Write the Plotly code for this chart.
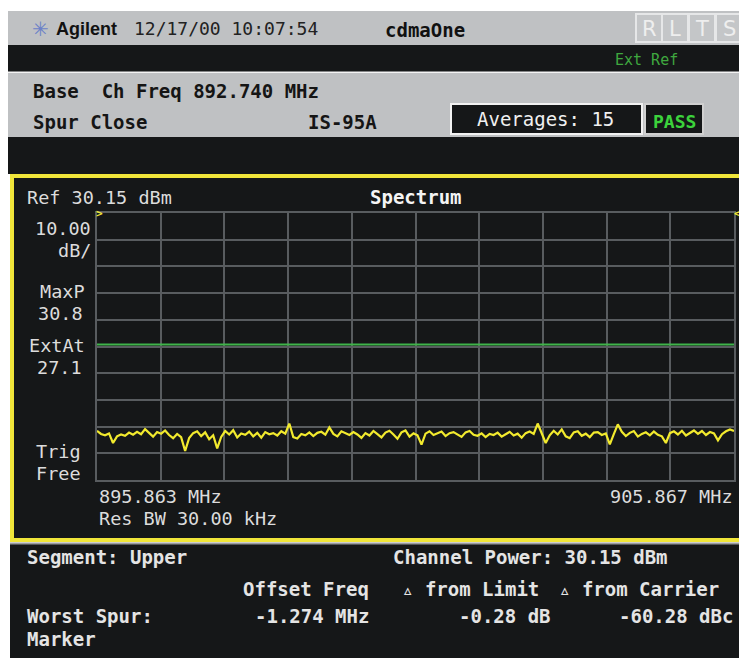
import numpy as np
import plotly.graph_objects as go

# sweep settings
f_start = 895.863
f_stop = 905.867
ref_level = 30.15
db_per_div = 10.0
limit_level = -19.1

# displayed spectrum trace (dBm), left to right
trace_dbm = [
    -51.4, -52.6, -53.1, -52.4, -56.0, -53.5, -52.8, -53.3, -52.1, -52.9,
    -51.8, -52.7, -50.8, -52.2, -53.6, -51.9, -52.5, -51.3, -53.0, -54.2,
    -52.6, -53.8, -59.0, -54.1, -52.3, -51.6, -53.4, -52.0, -54.6, -53.1,
    -58.0, -53.7, -51.5, -52.8, -51.2, -53.9, -52.4, -52.9, -51.7, -53.5,
    -52.2, -54.0, -51.9, -52.7, -52.3, -53.2, -51.6, -52.5, -48.7, -53.8,
    -54.3, -52.6, -53.1, -52.0, -53.4, -52.2, -51.8, -52.9, -50.2, -52.6,
    -53.5, -51.6, -52.4, -53.0, -51.9, -52.8, -54.1, -52.3, -53.2, -51.5,
    -52.7, -53.9, -52.1, -51.4, -52.8, -54.4, -52.0, -51.3, -53.6, -52.4,
    -53.1, -56.6, -52.5, -51.6, -53.0, -52.2, -51.7, -53.4, -52.3, -51.9,
    -52.8, -53.7, -52.0, -51.5, -52.9, -53.3, -52.4, -53.8, -52.6, -53.0,
    -52.1, -53.6, -52.7, -51.8, -53.2, -52.5, -54.0, -52.3, -51.7, -52.6,
    -48.7, -52.2, -56.0, -53.1, -51.4, -52.8, -50.9, -53.5, -54.2, -52.0,
    -51.6, -53.3, -52.5, -53.8, -52.1, -51.9, -53.0, -52.4, -56.5, -52.7,
    -49.0, -51.8, -53.4, -52.2, -51.5, -53.6, -52.6, -52.0, -53.1, -51.7,
    -52.9, -53.5, -56.0, -52.3, -51.6, -52.8, -51.4, -53.2, -52.1, -51.3,
    -52.6, -51.5, -53.0, -51.9, -52.4, -55.0, -52.7, -51.6, -50.9, -51.5,
]
freqs = np.linspace(f_start, f_stop, len(trace_dbm))

W, H = 747, 658
OFF = 8  # page body margin, positions below are in window pixels
MONO = "DejaVu Sans Mono"
GRAY = "#bfc1c3"
BLACK = "#151718"
YELLOW = "#f0e63a"
GRID = "#585c5f"


def px(x):
    return (x - OFF) / W


def py(y):
    return 1 - (y - OFF) / H


fig = go.Figure()

fig.add_trace(go.Scatter(x=[f_start, f_stop], y=[limit_level, limit_level],
                         mode="lines", line=dict(color="#3fb44a", width=2),
                         hoverinfo="skip"))
fig.add_trace(go.Scatter(x=freqs, y=trace_dbm, mode="lines",
                         line=dict(color="#f2ea2e", width=2.2),
                         hoverinfo="skip"))

shapes = []


def rect(x0, y0, x1, y1, fill, line=None, lw=0):
    shapes.append(dict(type="rect", xref="paper", yref="paper",
                       x0=px(x0), x1=px(x1), y0=py(y1), y1=py(y0),
                       fillcolor=fill, layer="below",
                       line=dict(color=line or fill, width=lw)))


def hline(x0, x1, y, color, lw=1):
    shapes.append(dict(type="line", xref="paper", yref="paper",
                       x0=px(x0), x1=px(x1), y0=py(y), y1=py(y),
                       layer="below", line=dict(color=color, width=lw)))


# instrument panels
rect(8, 11, 760, 45, GRAY)
rect(8, 45, 760, 72, BLACK)
hline(8, 760, 72.5, "#f4f4f4", 2)
rect(8, 73, 760, 137, GRAY)
rect(8, 137, 760, 174, BLACK)
rect(10, 174, 760, 542, BLACK)
rect(12, 176, 745, 540, BLACK, YELLOW, 4)
rect(10, 543, 760, 670, BLACK)
hline(10, 760, 543.5, "#9a9c9e", 2)

# R L T S keys
for x0 in [636, 662, 689, 716]:
    rect(x0, 14, x0 + 26, 42, "#c4c6c8", "#e6e7e8", 2)

# Averages / PASS boxes
rect(451, 104, 642, 134, BLACK, "#f2f2f2", 2)
rect(645, 104, 703, 134, BLACK, "#d0d0d0", 2)

annotations = []


def text(x, y, s, size=19, color="#dcdcdc", anchor="left", bold=False,
         family=MONO):
    if bold:
        s = "<b>" + s + "</b>"
    annotations.append(dict(x=px(x), y=py(y), xref="paper", yref="paper",
                            text=s, showarrow=False, xanchor=anchor,
                            yanchor="middle",
                            font=dict(family=family, size=size, color=color)))


# header
text(30, 29, "✳", 20, "#6c82c8", family="DejaVu Sans")
text(54, 29, "Agilent", 18, "#111111", bold=True, family="Liberation Sans")
text(132, 29, "12/17/00 10:07:54", 18, "#222222")
text(383, 30, "cdmaOne", 19, "#111111", bold=True)
for x0, ch in zip([636, 662, 689, 716], "RLTS"):
    text(x0 + 13, 29, ch, 21, "#eeeeee", anchor="center",
         family="DejaVu Sans, sans-serif")
text(613, 60, "Ext Ref", 15, "#3fa83f")

text(31, 91, "Base  Ch Freq 892.740 MHz", 19, "#151515", bold=True)
text(31, 122, "Spur Close", 19, "#151515", bold=True)
text(306, 122, "IS-95A", 19, "#151515", bold=True)
text(475, 119, "Averages: 15", 19, "#f0f0f0")
text(674, 121, "PASS", 18, "#3cd23c", anchor="center", bold=True)

# plot panel labels
text(25, 197, "Ref 30.15 dBm", 18.5)
text(416, 197, "Spectrum", 19, "#f4f4f4", anchor="center", bold=True)
text(93, 228, "10.00", 18.5, anchor="right")
text(93, 250, "dB/", 18.5, anchor="right")
text(87, 291, "MaxP", 18.5, anchor="right")
text(85, 314, "30.8", 18.5, anchor="right")
text(87, 345, "ExtAt", 18.5, anchor="right")
text(84, 367, "27.1", 18.5, anchor="right")
text(34, 451, "Trig", 18.5)
text(34, 473, "Free", 18.5)
text(97, 496, "895.863 MHz", 18.5)
text(97, 519, "Res BW 30.00 kHz", 18.5)
text(735, 496, "905.867 MHz", 18.5, anchor="right")
text(99, 214, "&gt;", 11, YELLOW, anchor="center", bold=True)
text(737, 214, "&lt;", 11, YELLOW, anchor="center", bold=True)

# results table
TC = "#e4e4e4"
text(25, 557, "Segment: Upper", 19, TC, bold=True)
text(391, 557, "Channel Power: 30.15 dBm", 19, TC, bold=True)
text(371, 589, "Offset Freq", 19, TC, anchor="right", bold=True)
text(541, 589, "▵ from Limit", 19, TC, anchor="right", bold=True)
text(721, 589, "▵ from Carrier", 19, TC, anchor="right", bold=True)
text(25, 616, "Worst Spur:", 19, TC, bold=True)
text(371, 616, "-1.274 MHz", 19, TC, anchor="right", bold=True)
text(553, 616, "-0.28 dB", 19, TC, anchor="right", bold=True)
text(735, 616, "-60.28 dBc", 19, TC, anchor="right", bold=True)
text(25, 639, "Marker", 19, TC, bold=True)

fig.update_layout(
    width=W, height=H, margin=dict(l=0, r=0, t=0, b=0),
    paper_bgcolor="white", plot_bgcolor=BLACK, showlegend=False,
    shapes=shapes, annotations=annotations,
    xaxis=dict(domain=[px(97), px(734)], range=[f_start, f_stop],
               tick0=f_start, dtick=(f_stop - f_start) / 10,
               showgrid=True, gridcolor=GRID, gridwidth=2,
               showline=True, linecolor=GRID, linewidth=2, mirror=True,
               showticklabels=False, ticks="", zeroline=False),
    yaxis=dict(domain=[py(480), py(213)],
               range=[ref_level - 10 * db_per_div, ref_level],
               tick0=ref_level, dtick=db_per_div,
               showgrid=True, gridcolor=GRID, gridwidth=2,
               showline=True, linecolor=GRID, linewidth=2, mirror=True,
               showticklabels=False, ticks="", zeroline=False),
)

fig.write_html("out.html")
